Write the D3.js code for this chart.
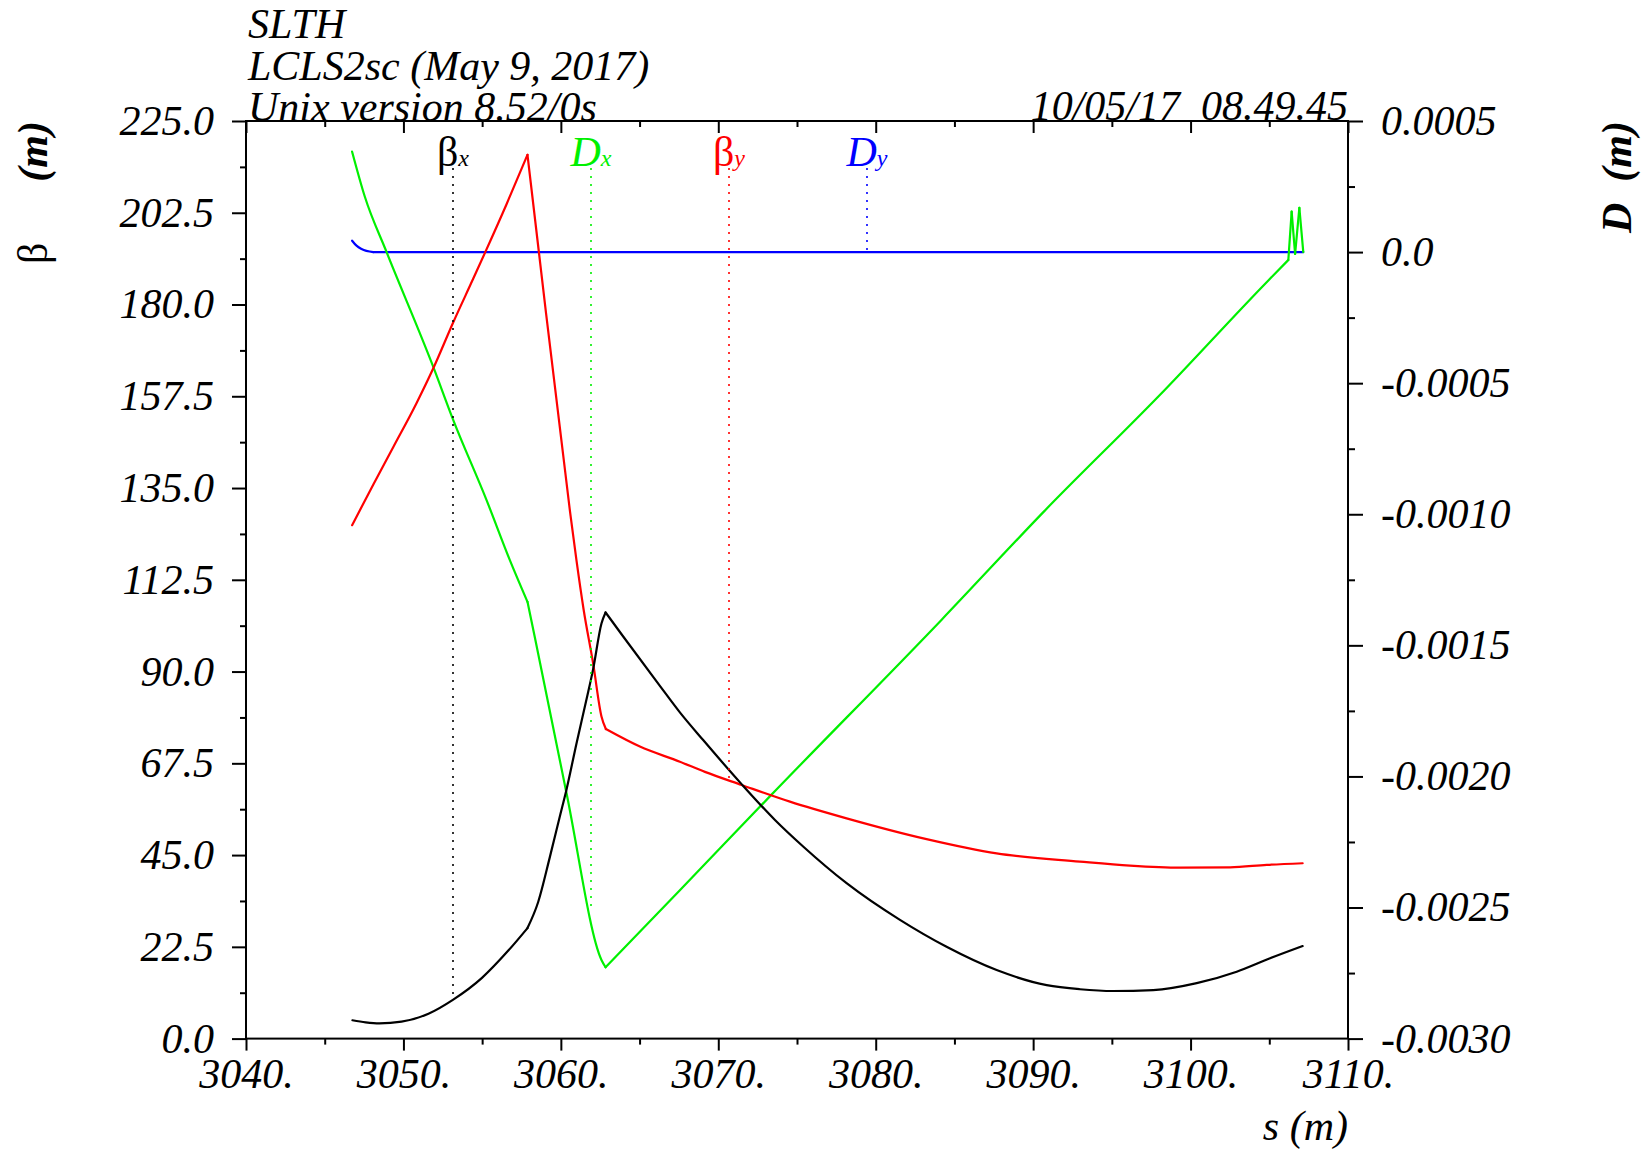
<!DOCTYPE html>
<html>
<head>
<meta charset="utf-8">
<script src="https://cdn.jsdelivr.net/npm/d3@7/dist/d3.min.js"></script>
<style>
  body { margin: 0; background: #fff; }
  svg text { font-family: "Liberation Serif", "Times New Roman", serif; font-style: italic; white-space: pre; }
</style>
</head>
<body>
<svg id="chart" width="1650" height="1155"></svg>
<script>
// ---- data ----
const titleLines = ["SLTH", "LCLS2sc (May 9, 2017)", "Unix version 8.52/0s"];
const stamp = "10/05/17  08.49.45";

const sTicks = [3040, 3050, 3060, 3070, 3080, 3090, 3100, 3110];
const betaTicks = [0, 22.5, 45, 67.5, 90, 112.5, 135, 157.5, 180, 202.5, 225];
const dTicks = [-0.003, -0.0025, -0.002, -0.0015, -0.001, -0.0005, 0, 0.0005];

// beta_x (black)
const sBetaX = [3046.76, 3047.6, 3048.47, 3049.88, 3051.59, 3053.14, 3054.99, 3056.69, 3057.88,
  3058.56, 3059.30, 3059.93, 3060.36, 3060.99, 3061.63, 3062.05, 3062.58, 3062.84,
  3063.96, 3066.29, 3067.56, 3069.04, 3071.48, 3073.60, 3075.39, 3078.15, 3081.54,
  3084.50, 3087.68, 3090.86, 3092.97, 3095.09, 3097.63, 3100.39, 3102.93, 3105.05, 3107.12];
const betaX = [4.5, 4.0, 3.75, 4.15, 6.1, 9.5, 14.9, 21.7, 27.1,
  33.5, 44.5, 54.4, 61.1, 72.3, 83.2, 90.6, 101.8, 104.5,
  98.6, 86.5, 80.0, 73.2, 62.4, 53.6, 47.1, 38.1, 29.1,
  22.5, 16.8, 13.1, 12.1, 11.67, 11.9, 13.6, 16.4, 19.7, 22.7];
const breaksBetaX = [3057.88, 3062.84];

// beta_y (red)
const sBetaY = [3046.74, 3048.08, 3049.35, 3050.83, 3051.89, 3053.16, 3054.43, 3055.17, 3056.55, 3057.88,
  3058.60, 3060.57, 3060.99, 3061.45, 3062.05, 3062.58, 3062.86, 3065.02, 3067.56, 3069.15,
  3071.48, 3074.55, 3078.15, 3083.23, 3087.68, 3092.97, 3096.15, 3099.33, 3102.51, 3104.84, 3107.12];
const betaY = [125.9, 135.8, 145.0, 155.8, 164.3, 175.6, 186.3, 192.6, 204.6, 216.7,
  193.0, 129.6, 117.3, 105.1, 92.0, 79.0, 75.9, 71.6, 67.9, 65.4,
  62.2, 58.1, 54.0, 48.9, 45.4, 43.4, 42.4, 41.9, 42.0, 42.6, 43.0];
const breaksBetaY = [3057.88, 3062.86];

// D_x (green)
const sDx = [3046.74, 3047.55, 3048.92, 3051.89, 3053.16, 3055.28, 3056.76, 3057.88, 3058.34, 3060.36,
  3062.58, 3062.84, 3067.56, 3073.26, 3084.19, 3090.71, 3098.0, 3104.94, 3106.21, 3106.42,
  3106.64, 3106.91, 3107.16];
const dx = [0.000383, 0.000211, 0.0000015, -0.000437, -0.000640, -0.000946, -0.001175, -0.001334, -0.001467, -0.002064,
  -0.002700, -0.002728, -0.002434, -0.002077, -0.001402, -0.000988, -0.000548, -0.000108, -0.0000302, 0.000154,
  -0.0000073, 0.000169, 0.0];
const breaksDx = [3057.88, 3062.84, 3106.21, 3106.42, 3106.64, 3106.91];

// D_y (blue)
const sDy = [3046.74, 3047.02, 3047.34, 3048.08, 3107.16];
const dy = [0.0000434, 0.0000244, 0.0000118, 0.0, 0.0];
const breaksDy = [3048.08];

// ---- layout ----
const plot = {left: 246, right: 1348, top: 121, bottom: 1038.6};
const fontSize = 42;
const legendX0 = 207, legendStep = 138, legendBase = 166;

const svg = d3.select("#chart");

const x = d3.scaleLinear().domain([3040, 3110]).range([plot.left, plot.right]);
const yB = d3.scaleLinear().domain([0, 225]).range([plot.bottom, plot.top]);
const yD = d3.scaleLinear().domain([-0.003, 0.0005]).range([plot.bottom, plot.top]);

function mids(arr) {
  return arr.slice(1).map((v, i) => (v + arr[i]) / 2);
}

function fmtD(d) {
  if (Math.abs(d) < 1e-12) return "0.0";
  return (d < 0 ? "-" : "") + Math.abs(d).toFixed(4);
}

function styleAxis(g) {
  g.select(".domain").remove();
  g.selectAll(".tick line").attr("stroke", "#000").attr("stroke-width", 2);
  g.selectAll("text")
    .attr("font-size", fontSize)
    .attr("font-family", "Liberation Serif, Times New Roman, serif")
    .attr("fill", "#000");
}

// bottom axis
svg.append("g")
  .attr("transform", `translate(0,${plot.bottom})`)
  .call(d3.axisBottom(x).tickValues(sTicks).tickSize(12).tickPadding(8).tickFormat(d => d + "."))
  .call(styleAxis);
svg.append("g")
  .attr("transform", `translate(0,${plot.bottom})`)
  .call(d3.axisBottom(x).tickValues(mids(sTicks)).tickSize(6).tickFormat(""))
  .call(styleAxis);

// top axis (ticks inward)
svg.append("g")
  .attr("transform", `translate(0,${plot.top})`)
  .call(d3.axisTop(x).tickValues(sTicks).tickSize(-12).tickFormat(""))
  .call(styleAxis);
svg.append("g")
  .attr("transform", `translate(0,${plot.top})`)
  .call(d3.axisTop(x).tickValues(mids(sTicks)).tickSize(-6).tickFormat(""))
  .call(styleAxis);

// left axis (beta)
svg.append("g")
  .attr("transform", `translate(${plot.left},0)`)
  .call(d3.axisLeft(yB).tickValues(betaTicks).tickSize(14).tickPadding(18).tickFormat(d => d.toFixed(1)))
  .call(styleAxis);
svg.append("g")
  .attr("transform", `translate(${plot.left},0)`)
  .call(d3.axisLeft(yB).tickValues(mids(betaTicks)).tickSize(6).tickFormat(""))
  .call(styleAxis);

// right axis (D)
svg.append("g")
  .attr("transform", `translate(${plot.right},0)`)
  .call(d3.axisRight(yD).tickValues(dTicks).tickSize(15).tickPadding(18).tickFormat(fmtD))
  .call(styleAxis);
svg.append("g")
  .attr("transform", `translate(${plot.right},0)`)
  .call(d3.axisRight(yD).tickValues(mids(dTicks)).tickSize(7).tickFormat(""))
  .call(styleAxis);

// frame
svg.append("rect")
  .attr("x", plot.left).attr("y", plot.top)
  .attr("width", plot.right - plot.left).attr("height", plot.bottom - plot.top)
  .attr("fill", "none").attr("stroke", "#000").attr("stroke-width", 2);

// curves
const series = [
  {s: sBetaX, v: betaX, br: breaksBetaX, y: yB, color: "#000000", main: "\u03b2", sub: "x", greek: true},
  {s: sDx, v: dx, br: breaksDx, y: yD, color: "#00f000", main: "D", sub: "x", greek: false},
  {s: sBetaY, v: betaY, br: breaksBetaY, y: yB, color: "#ff0000", main: "\u03b2", sub: "y", greek: true},
  {s: sDy, v: dy, br: breaksDy, y: yD, color: "#0000ff", main: "D", sub: "y", greek: false}
];

// split a series at its kinks, smooth each piece
function pieces(ser) {
  const out = [];
  let cur = [];
  ser.s.forEach((s, i) => {
    cur.push([s, ser.v[i]]);
    if (ser.br.some(b => Math.abs(b - s) < 1e-6) && cur.length > 1) {
      out.push(cur);
      cur = [[s, ser.v[i]]];
    }
  });
  if (cur.length > 1) out.push(cur);
  return out;
}

[series[3], series[1], series[2], series[0]].forEach(ser => {
  const line = d3.line()
    .x(d => x(d[0]))
    .y(d => ser.y(d[1]))
    .curve(d3.curveMonotoneX);
  svg.append("g").selectAll("path")
    .data(pieces(ser))
    .join("path")
    .attr("d", line)
    .attr("fill", "none")
    .attr("stroke", ser.color)
    .attr("stroke-width", 2.2)
    .attr("stroke-linejoin", "round")
    .attr("stroke-linecap", "round");
});

function valueAt(ser, s) {
  for (let i = 1; i < ser.s.length; i++) {
    if (s <= ser.s[i]) {
      const t = (s - ser.s[i - 1]) / (ser.s[i] - ser.s[i - 1]);
      return ser.v[i - 1] + t * (ser.v[i] - ser.v[i - 1]);
    }
  }
  return ser.v[ser.v.length - 1];
}

// legend with dotted drop lines
series.forEach((ser, k) => {
  const px = plot.left + legendX0 + k * legendStep;
  const yEnd = ser.y(valueAt(ser, x.invert(px)));
  svg.append("line")
    .attr("x1", px).attr("x2", px)
    .attr("y1", legendBase + 2).attr("y2", yEnd)
    .attr("stroke", ser.color)
    .attr("stroke-width", 1.6)
    .attr("stroke-dasharray", "2,6");
  const t = svg.append("text")
    .attr("x", px).attr("y", legendBase)
    .attr("text-anchor", "middle")
    .attr("fill", ser.color)
    .attr("font-size", fontSize);
  t.append("tspan").attr("font-style", ser.greek ? "normal" : "italic").text(ser.main);
  t.append("tspan").attr("font-size", 24).text(ser.sub);
});

// header
titleLines.forEach((txt, i) => {
  svg.append("text")
    .attr("x", 248).attr("y", 38 + i * 41.5)
    .attr("font-size", fontSize)
    .text(txt);
});
svg.append("text")
  .attr("x", plot.right).attr("y", 120)
  .attr("text-anchor", "end")
  .attr("font-size", fontSize)
  .text(stamp);

// axis titles
svg.append("text")
  .attr("x", plot.right).attr("y", 1140)
  .attr("text-anchor", "end")
  .attr("font-size", fontSize)
  .text("s (m)");

const lt = svg.append("text")
  .attr("transform", `translate(47,${plot.top}) rotate(-90)`)
  .attr("text-anchor", "end")
  .attr("font-size", fontSize)
  .attr("font-weight", "bold");
lt.append("tspan").attr("font-style", "normal").attr("font-weight", "normal").text("\u03b2");
lt.append("tspan").attr("dx", 40).text("  (m)");

svg.append("text")
  .attr("transform", `translate(1631,${plot.top}) rotate(-90)`)
  .attr("text-anchor", "end")
  .attr("font-size", fontSize)
  .attr("font-weight", "bold")
  .text("D  (m)");
</script>
</body>
</html>
